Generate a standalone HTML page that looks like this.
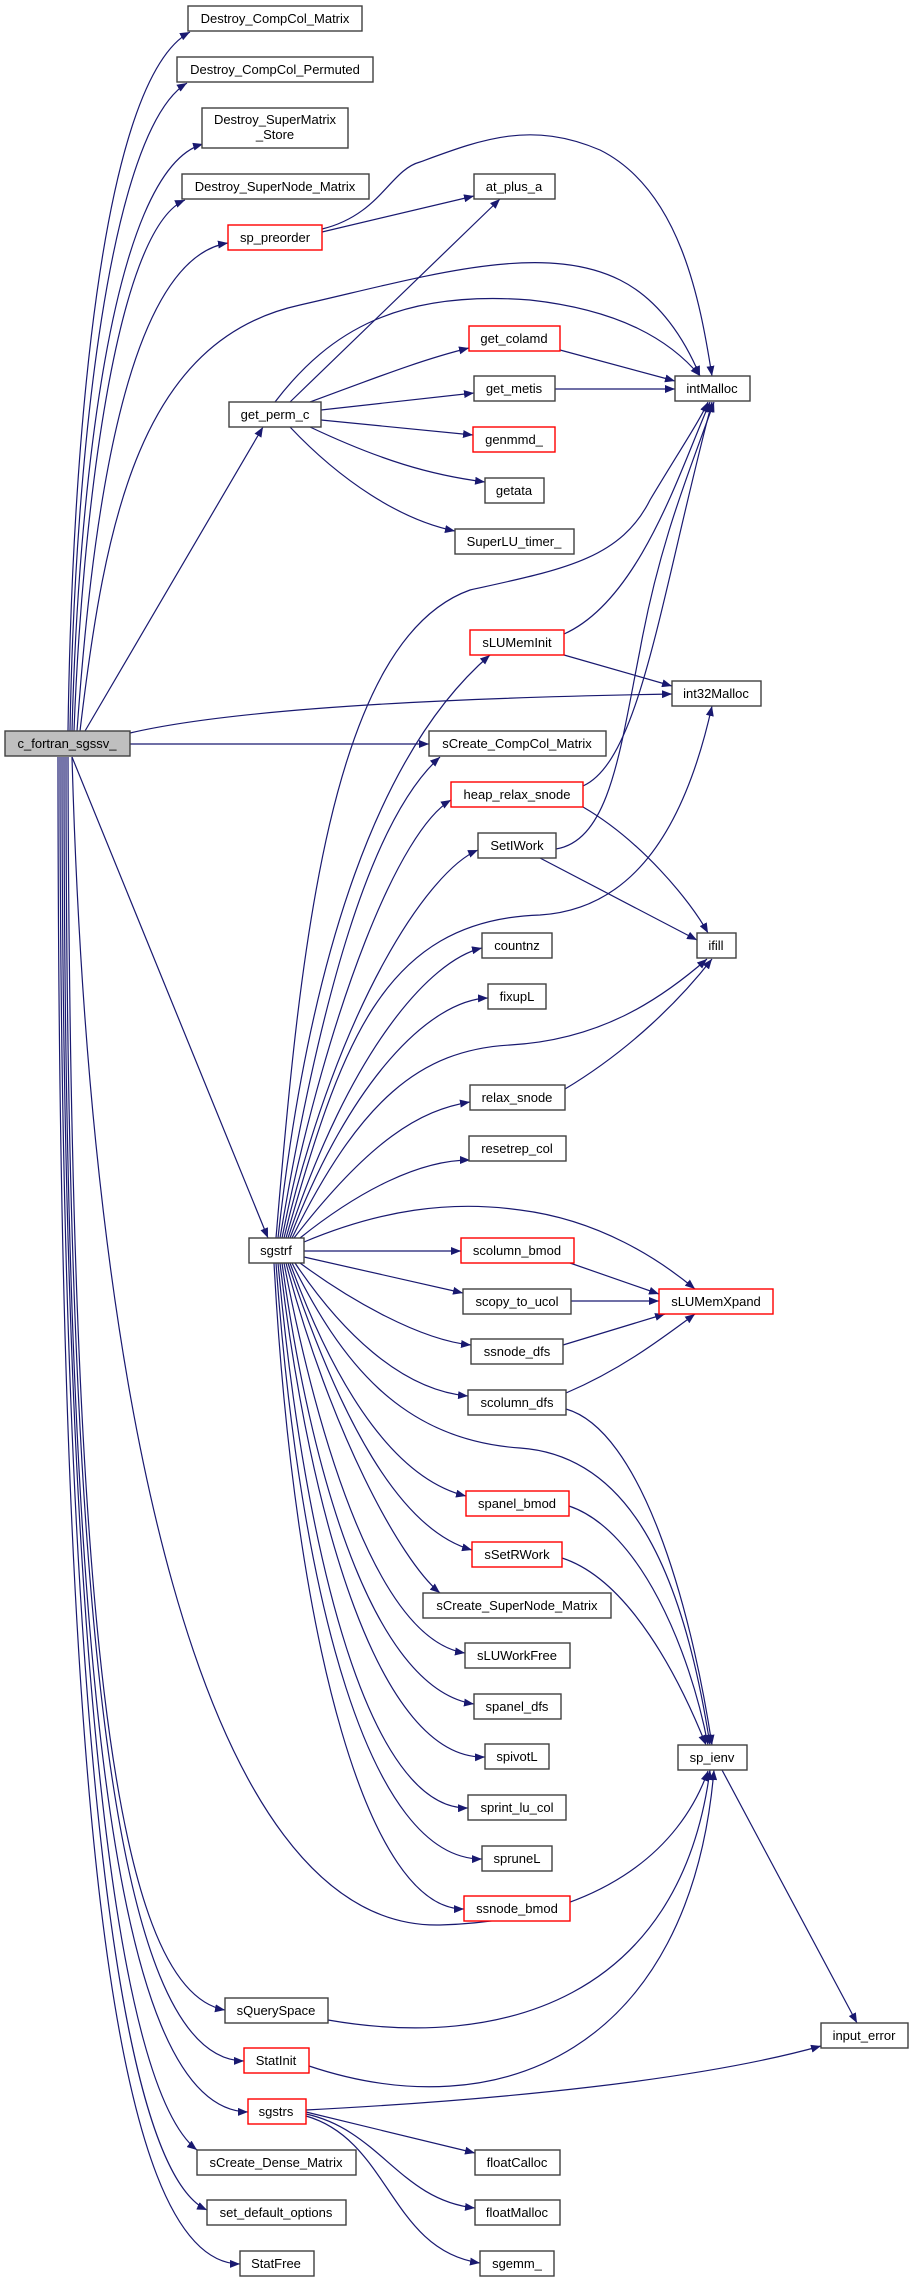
<!DOCTYPE html>
<html><head><meta charset="utf-8"><style>
html,body{margin:0;padding:0;background:#fff;}
svg{display:block;}
text{font-family:"Liberation Sans",sans-serif;font-size:13px;fill:#000;text-anchor:middle;}
.b{fill:#fff;stroke:#404040;stroke-width:1.4;}
.r{fill:#fff;stroke:#ff0000;stroke-width:1.4;}
.g{fill:#bfbfbf;stroke:#404040;stroke-width:1.4;}
path.e{fill:none;stroke:#191970;stroke-width:1.2;marker-end:url(#a);}
</style></head><body>
<svg width="909" height="2283" viewBox="0 0 909 2283" xmlns="http://www.w3.org/2000/svg">
<defs><marker id="a" markerUnits="userSpaceOnUse" markerWidth="11" markerHeight="8" refX="10" refY="4" orient="auto"><path d="M0,0 L10,4 L0,8 z" fill="#191970"/></marker></defs>
<g>
<path class="e" d="M68,731 C72,450 100,80 190,32"/>
<path class="e" d="M70,731 C75,450 110,130 187,83"/>
<path class="e" d="M72,731 C78,500 110,170 203,144"/>
<path class="e" d="M74,731 C82,520 115,230 185,200"/>
<path class="e" d="M77,731 C90,550 120,260 228,243"/>
<path class="e" d="M80,731 C105,520 140,340 300,305 C420,278 540,240 620,280 C660,300 685,340 700,376"/>
<path class="e" d="M85,731 L263,427"/>
<path class="e" d="M130,733 C250,705 500,697 672,694"/>
<path class="e" d="M130,744 L429,744"/>
<path class="e" d="M72,757 L268,1238"/>
<path class="e" d="M72,757 C90,1400 200,1930 440,1925 C600,1920 680,1850 708,1771"/>
<path class="e" d="M68,757 C70,1600 110,1990 225,2010"/>
<path class="e" d="M66,757 C66,1600 110,2060 244,2061"/>
<path class="e" d="M64,757 C64,1650 110,2110 248,2112"/>
<path class="e" d="M62,757 C62,1700 120,2090 197,2150"/>
<path class="e" d="M60,757 C60,1750 120,2170 207,2210"/>
<path class="e" d="M58,757 C58,1800 110,2263 240,2264"/>
<path class="e" d="M322,232 L474,196"/>
<path class="e" d="M322,229 C380,215 390,170 420,162 C480,140 530,120 600,150 C680,190 700,300 712,376"/>
<path class="e" d="M290,402 L500,199"/>
<path class="e" d="M275,402 C330,330 400,290 530,300 C620,310 670,340 700,376"/>
<path class="e" d="M310,402 C370,380 420,360 469,348"/>
<path class="e" d="M321,410 L474,393"/>
<path class="e" d="M321,420 L473,435"/>
<path class="e" d="M310,427 C380,460 430,475 485,482"/>
<path class="e" d="M290,427 C340,480 400,520 455,531"/>
<path class="e" d="M560,350 L675,381"/>
<path class="e" d="M555,389 L675,389"/>
<path class="e" d="M564,634 C640,600 680,470 710,402"/>
<path class="e" d="M564,655 L672,686"/>
<path class="e" d="M583,786 C640,760 660,600 712,402"/>
<path class="e" d="M583,807 C640,840 690,900 708,933"/>
<path class="e" d="M556,849 C610,840 620,750 640,650 C660,540 690,470 714,402"/>
<path class="e" d="M540,858 L697,940"/>
<path class="e" d="M565,1089 C630,1050 680,1000 712,959"/>
<path class="e" d="M276,1238 C300,950 330,640 470,590 C560,570 620,560 650,500 C680,450 700,420 708,402"/>
<path class="e" d="M278,1238 C310,950 380,750 490,655"/>
<path class="e" d="M280,1238 C320,1000 370,820 440,757"/>
<path class="e" d="M282,1238 C330,1000 400,830 451,800"/>
<path class="e" d="M284,1238 C340,1000 430,870 478,850"/>
<path class="e" d="M286,1238 C340,1050 380,920 540,915 C620,910 680,850 712,706"/>
<path class="e" d="M288,1238 C350,1050 430,960 482,948"/>
<path class="e" d="M290,1238 C350,1080 430,1000 488,998"/>
<path class="e" d="M292,1238 C360,1100 420,1050 510,1045 C600,1040 660,1000 707,959"/>
<path class="e" d="M294,1238 C370,1140 420,1110 470,1102"/>
<path class="e" d="M300,1238 C360,1190 420,1160 470,1160"/>
<path class="e" d="M304,1242 C380,1210 450,1200 520,1210 C600,1220 660,1260 695,1289"/>
<path class="e" d="M304,1251 L461,1251"/>
<path class="e" d="M304,1257 L463,1293"/>
<path class="e" d="M300,1263 C350,1300 420,1340 471,1345"/>
<path class="e" d="M295,1263 C340,1330 400,1390 468,1396"/>
<path class="e" d="M292,1263 C340,1360 400,1440 520,1448 C620,1455 680,1550 710,1745"/>
<path class="e" d="M290,1263 C340,1400 400,1480 466,1496"/>
<path class="e" d="M288,1263 C340,1420 400,1530 472,1550"/>
<path class="e" d="M286,1263 C330,1430 400,1560 440,1593"/>
<path class="e" d="M284,1263 C320,1450 380,1640 465,1653"/>
<path class="e" d="M282,1263 C315,1500 380,1690 474,1704"/>
<path class="e" d="M280,1263 C310,1520 380,1760 485,1757"/>
<path class="e" d="M278,1263 C305,1560 370,1810 468,1808"/>
<path class="e" d="M276,1263 C300,1600 370,1860 482,1859"/>
<path class="e" d="M274,1263 C295,1650 370,1910 464,1909"/>
<path class="e" d="M570,1263 L659,1294"/>
<path class="e" d="M571,1301 L659,1301"/>
<path class="e" d="M563,1345 L665,1314"/>
<path class="e" d="M566,1393 C620,1370 660,1340 695,1314"/>
<path class="e" d="M566,1409 C640,1430 690,1600 712,1745"/>
<path class="e" d="M569,1506 C640,1530 690,1650 708,1745"/>
<path class="e" d="M562,1558 C630,1580 680,1680 706,1745"/>
<path class="e" d="M328,2020 C500,2050 680,2000 710,1770"/>
<path class="e" d="M309,2066 C500,2130 690,2050 714,1770"/>
<path class="e" d="M722,1770 L857,2023"/>
<path class="e" d="M306,2110 C500,2100 700,2080 821,2046"/>
<path class="e" d="M306,2112 L475,2153"/>
<path class="e" d="M306,2114 C380,2130 400,2200 475,2208"/>
<path class="e" d="M306,2116 C390,2140 390,2250 480,2263"/>
</g>
<g>
<rect class="b" x="188" y="6" width="174" height="25"/><text x="275" y="23">Destroy_CompCol_Matrix</text>
<rect class="b" x="177" y="57" width="196" height="25"/><text x="275" y="74">Destroy_CompCol_Permuted</text>
<rect class="b" x="202" y="108" width="146" height="40"/><text x="275" y="124">Destroy_SuperMatrix</text><text x="275" y="139">_Store</text>
<rect class="b" x="182" y="174" width="187" height="25"/><text x="275" y="191">Destroy_SuperNode_Matrix</text>
<rect class="r" x="228" y="225" width="94" height="25"/><text x="275" y="242">sp_preorder</text>
<rect class="b" x="474" y="174" width="81" height="25"/><text x="514" y="191">at_plus_a</text>
<rect class="b" x="229" y="402" width="92" height="25"/><text x="275" y="419">get_perm_c</text>
<rect class="r" x="469" y="326" width="91" height="25"/><text x="514" y="343">get_colamd</text>
<rect class="b" x="474" y="376" width="81" height="25"/><text x="514" y="393">get_metis</text>
<rect class="b" x="675" y="376" width="75" height="25"/><text x="712" y="393">intMalloc</text>
<rect class="r" x="473" y="427" width="82" height="25"/><text x="514" y="444">genmmd_</text>
<rect class="b" x="485" y="478" width="59" height="25"/><text x="514" y="495">getata</text>
<rect class="b" x="455" y="529" width="119" height="25"/><text x="514" y="546">SuperLU_timer_</text>
<rect class="r" x="470" y="630" width="94" height="25"/><text x="517" y="647">sLUMemInit</text>
<rect class="b" x="672" y="681" width="89" height="25"/><text x="716" y="698">int32Malloc</text>
<rect class="g" x="5" y="731" width="125" height="25"/><text x="67" y="748">c_fortran_sgssv_</text>
<rect class="b" x="429" y="731" width="177" height="25"/><text x="517" y="748">sCreate_CompCol_Matrix</text>
<rect class="r" x="451" y="782" width="132" height="25"/><text x="517" y="799">heap_relax_snode</text>
<rect class="b" x="478" y="833" width="78" height="25"/><text x="517" y="850">SetIWork</text>
<rect class="b" x="482" y="933" width="70" height="25"/><text x="517" y="950">countnz</text>
<rect class="b" x="697" y="933" width="39" height="25"/><text x="716" y="950">ifill</text>
<rect class="b" x="488" y="984" width="58" height="25"/><text x="517" y="1001">fixupL</text>
<rect class="b" x="470" y="1085" width="95" height="25"/><text x="517" y="1102">relax_snode</text>
<rect class="b" x="469" y="1136" width="97" height="25"/><text x="517" y="1153">resetrep_col</text>
<rect class="b" x="249" y="1238" width="55" height="25"/><text x="276" y="1255">sgstrf</text>
<rect class="r" x="461" y="1238" width="113" height="25"/><text x="517" y="1255">scolumn_bmod</text>
<rect class="b" x="463" y="1289" width="108" height="25"/><text x="517" y="1306">scopy_to_ucol</text>
<rect class="r" x="659" y="1289" width="114" height="25"/><text x="716" y="1306">sLUMemXpand</text>
<rect class="b" x="471" y="1339" width="92" height="25"/><text x="517" y="1356">ssnode_dfs</text>
<rect class="b" x="468" y="1390" width="98" height="25"/><text x="517" y="1407">scolumn_dfs</text>
<rect class="r" x="466" y="1491" width="103" height="25"/><text x="517" y="1508">spanel_bmod</text>
<rect class="r" x="472" y="1542" width="90" height="25"/><text x="517" y="1559">sSetRWork</text>
<rect class="b" x="423" y="1593" width="188" height="25"/><text x="517" y="1610">sCreate_SuperNode_Matrix</text>
<rect class="b" x="465" y="1643" width="105" height="25"/><text x="517" y="1660">sLUWorkFree</text>
<rect class="b" x="474" y="1694" width="87" height="25"/><text x="517" y="1711">spanel_dfs</text>
<rect class="b" x="485" y="1744" width="64" height="25"/><text x="517" y="1761">spivotL</text>
<rect class="b" x="468" y="1795" width="98" height="25"/><text x="517" y="1812">sprint_lu_col</text>
<rect class="b" x="482" y="1846" width="70" height="25"/><text x="517" y="1863">spruneL</text>
<rect class="r" x="464" y="1896" width="106" height="25"/><text x="517" y="1913">ssnode_bmod</text>
<rect class="b" x="678" y="1745" width="69" height="25"/><text x="712" y="1762">sp_ienv</text>
<rect class="b" x="225" y="1998" width="103" height="25"/><text x="276" y="2015">sQuerySpace</text>
<rect class="b" x="821" y="2023" width="87" height="25"/><text x="864" y="2040">input_error</text>
<rect class="r" x="244" y="2048" width="65" height="25"/><text x="276" y="2065">StatInit</text>
<rect class="r" x="248" y="2099" width="58" height="25"/><text x="276" y="2116">sgstrs</text>
<rect class="b" x="197" y="2150" width="159" height="25"/><text x="276" y="2167">sCreate_Dense_Matrix</text>
<rect class="b" x="475" y="2150" width="85" height="25"/><text x="517" y="2167">floatCalloc</text>
<rect class="b" x="207" y="2200" width="139" height="25"/><text x="276" y="2217">set_default_options</text>
<rect class="b" x="475" y="2200" width="85" height="25"/><text x="517" y="2217">floatMalloc</text>
<rect class="b" x="240" y="2251" width="74" height="25"/><text x="276" y="2268">StatFree</text>
<rect class="b" x="480" y="2251" width="74" height="25"/><text x="517" y="2268">sgemm_</text>
</g>
</svg>
</body></html>
